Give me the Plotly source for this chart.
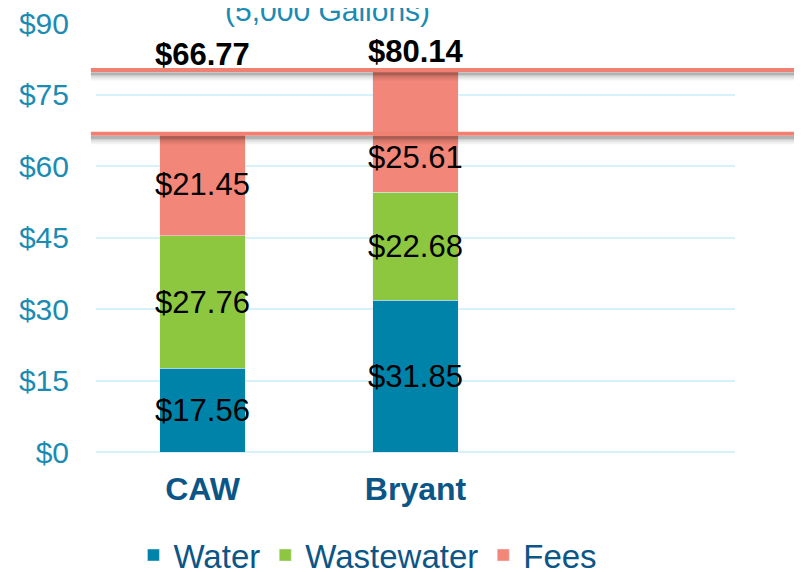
import plotly.graph_objects as go

categories = ["CAW", "Bryant", " "]
water = [17.56, 31.85, None]
wastewater = [27.76, 22.68, None]
fees = [21.45, 25.61, None]
totals = [66.77, 80.14]
tick_vals = [0, 15, 30, 45, 60, 75, 90]
tick_text = ["$0", "$15", "$30", "$45", "$60", "$75", "$90"]

C_WATER = "#0083A8"
C_WW = "#8DC63F"
C_FEES = "#F28678"
TEAL = "#1A8BB3"
NAVY = "#0B5687"
FONT = "Liberation Sans, Arial, sans-serif"

PX_PER_UNIT = 429 / 90.0


def fmt(v):
    return "" if v is None else f"${v:.2f}"


seg_font = dict(size=31, color="black", family=FONT)

fig = go.Figure()
fig.add_trace(go.Bar(name="Water", x=categories, y=water, marker_color=C_WATER,
                     text=[fmt(v) for v in water], textposition="inside", textangle=0,
                     insidetextanchor="middle", constraintext="none",
                     textfont=seg_font))
fig.add_trace(go.Bar(name="Wastewater", x=categories, y=wastewater, marker_color=C_WW,
                     text=[fmt(v) for v in wastewater], textposition="inside", textangle=0,
                     insidetextanchor="middle", constraintext="none",
                     textfont=seg_font))
fees_text = [fmt(fees[0]), "", ""]
fig.add_trace(go.Bar(name="Fees", x=categories, y=fees, marker_color=C_FEES,
                     text=fees_text, textposition="inside", textangle=0,
                     insidetextanchor="middle", constraintext="none",
                     textfont=seg_font))

# Bryant fees label (moved down below the reference line)
fees_base_bryant = water[1] + wastewater[1]
fig.add_annotation(x=categories[1], y=fees_base_bryant, yanchor="middle", yshift=35,
                   text=fmt(fees[1]), showarrow=False, font=seg_font)

# Total labels
total_shift = [79, 19]
for cat, tot, sh in zip(categories[:2], totals, total_shift):
    fig.add_annotation(x=cat, y=tot, yanchor="middle", yshift=sh,
                       text=f"<b>${tot:.2f}</b>", showarrow=False,
                       font=dict(size=31, color="black", family=FONT))

# Reference lines with drop shadow
shadow = [(3.5, 2.5, 0.30), (5.5, 2.0, 0.20), (7.5, 2.0, 0.11), (9.5, 2.0, 0.05)]
for tot in totals:
    for off, w, a in shadow:
        yv = tot - off / PX_PER_UNIT
        fig.add_shape(type="line", xref="paper", yref="y", x0=-0.008, x1=1.12,
                      y0=yv, y1=yv, line=dict(color=f"rgba(0,0,0,{a})", width=w),
                      layer="above")
    fig.add_shape(type="line", xref="paper", yref="y", x0=-0.008, x1=1.12,
                  y0=tot, y1=tot, line=dict(color="#F08072", width=4), layer="above")

# Partially visible title
fig.add_annotation(xref="paper", yref="paper", x=0.363, y=1.030, yanchor="middle",
                   text="(5,000 Gallons)", showarrow=False,
                   font=dict(size=30, color=TEAL, family=FONT))

fig.update_layout(
    width=794, height=564,
    barmode="stack", bargap=0.6,
    paper_bgcolor="white", plot_bgcolor="white",
    margin=dict(l=88, r=67, t=15, b=120, autoexpand=False),
    font=dict(family=FONT),
    showlegend=True,
    legend=dict(orientation="h", xref="container", yref="container",
                x=0.158, xanchor="left", y=0.03, yanchor="middle",
                font=dict(size=33, color=NAVY, family=FONT), traceorder="normal",
                itemwidth=30),
    xaxis=dict(showgrid=False, showline=False, zeroline=False, automargin=False,
               tickfont=dict(size=32, color=NAVY, family=FONT),
               tickvals=categories[:2],
               ticktext=[f"<b>{c}</b>" for c in categories[:2]],
               ticklabelstandoff=15),
    yaxis=dict(range=[0, 90], tickvals=tick_vals, ticktext=tick_text, automargin=False,
               showgrid=True, gridcolor="#D6F1FA", gridwidth=2,
               zeroline=True, zerolinecolor="#D6F1FA", zerolinewidth=2,
               showline=False, ticklabeloverflow="allow",
               tickfont=dict(size=30, color=TEAL, family=FONT),
               ticklabelstandoff=26),
)

fig.write_html("out.html")
